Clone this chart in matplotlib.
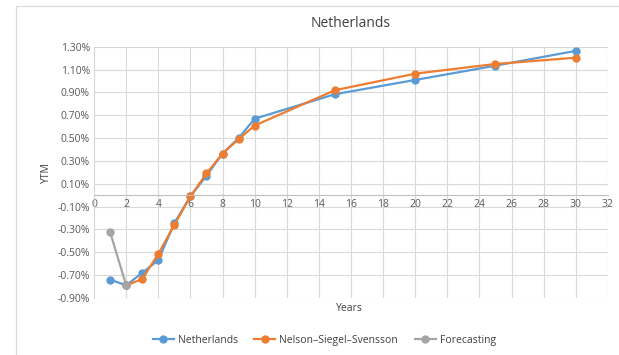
import matplotlib.pyplot as plt
from matplotlib.ticker import FuncFormatter
from matplotlib.patches import Rectangle

plt.rcParams['font.family'] = ['Open Sans', 'DejaVu Sans']

# yields in percent
years = [1, 2, 3, 4, 5, 6, 7, 8, 9, 10, 15, 20, 25, 30]
netherlands = [-0.74, -0.79, -0.68, -0.57, -0.245, -0.01, 0.17, 0.365, 0.50, 0.67, 0.885, 1.01, 1.135, 1.265]
nss_years = [2, 3, 4, 5, 6, 7, 8, 9, 10, 15, 20, 25, 30]
nss = [-0.79, -0.735, -0.515, -0.26, -0.01, 0.19, 0.365, 0.49, 0.61, 0.92, 1.065, 1.15, 1.205]
fc_years = [1, 2]
forecasting = [-0.325, -0.79]

fig = plt.figure(figsize=(6.19, 3.55), dpi=100)
# chart area border (runs off the right and bottom edges)
fig.patches.append(Rectangle((16 / 619, -0.1), 1.2, 1.1 - 6 / 355, transform=fig.transFigure,
                             fill=False, ec='#D9D9D9', lw=0.8))
ax = fig.add_axes([0.152, 0.161, 0.83, 0.707])

ax.plot(years, netherlands, color='#5B9BD5', lw=1.6, marker='o', ms=5, label='Netherlands')
ax.plot(nss_years, nss, color='#ED7D31', lw=1.6, marker='o', ms=5, label='Nelson\u2013Siegel\u2013Svensson')
ax.plot(fc_years, forecasting, color='#A5A5A5', lw=1.6, marker='o', ms=5, label='Forecasting')

ax.set_xlim(0, 32)
ax.set_ylim(-0.9, 1.3)
ax.set_xticks(range(0, 33, 2))
ax.set_yticks([-0.9 + 0.2 * i for i in range(12)])
ax.yaxis.set_major_formatter(FuncFormatter(lambda v, p: f'{v:.2f}%'))
ax.grid(True, color='#D9D9D9', lw=0.8)
ax.set_axisbelow(True)

for s in ['top', 'right']:
    ax.spines[s].set_visible(False)
ax.spines['left'].set_color('#D9D9D9')
ax.spines['bottom'].set_position(('data', 0))
ax.spines['bottom'].set_color('#BFBFBF')
ax.tick_params(length=0, labelsize=7.5, colors='#595959', pad=3)

ax.set_title('Netherlands', fontsize=10, color='#404040', pad=14)
ax.set_ylabel('YTM', fontsize=7.5, color='#404040')
fig.text(0.565, 0.125, 'Years', fontsize=7.5, color='#404040', ha='center')

fig.legend(loc='lower center', ncol=3, frameon=False, fontsize=7.5,
           bbox_to_anchor=(0.524, 0.0), handlelength=2.0, columnspacing=1.6,
           handletextpad=0.4, labelcolor='#404040')

plt.savefig('out.png')
